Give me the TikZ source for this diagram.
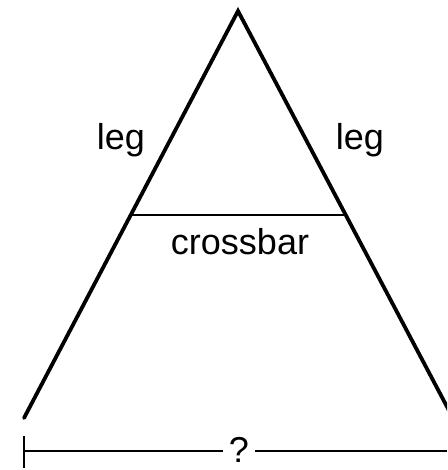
\documentclass[tikz,border=0pt]{standalone}
\usepackage{fontspec}
\setmainfont{Liberation Sans}
\begin{document}
\begin{tikzpicture}[x=1pt,y=-1pt,
  legline/.style={line width=3.8pt,line cap=round,line join=miter},
  thinline/.style={line width=1.8pt},
  lbl/.style={font=\fontsize{36}{40}\selectfont,anchor=base,inner sep=0pt}]
\useasboundingbox (0,0) rectangle (447,470);
\coordinate (apex) at (238,11);
\coordinate (bl) at (24,418);
\coordinate (br) at (454,420);
\coordinate (cl) at (132,215);
\coordinate (cr) at (346,215);
\begin{scope}
\clip (0,0) rectangle (447,470);
\draw[legline] (bl) -- (apex) -- (br);
\end{scope}
\draw[thinline] (cl) -- (cr);
\node[lbl] (legl) at (121,150) {leg};
\node[lbl] (legr) at (360,150) {leg};
\node[lbl] (cb) at (240,254) {crossbar};
\node[lbl,inner xsep=6pt] (q) at (239,462) {?};
\coordinate (ml) at (24,451);
\coordinate (mr) at (447,451);
\coordinate (tt) at (24,436);
\coordinate (tb) at (24,468);
\draw[thinline] (tt) -- (tb);
\draw[thinline] (ml) -- (ml -| q.west);
\draw[thinline] (mr -| q.east) -- (mr);
\end{tikzpicture}
\end{document}
